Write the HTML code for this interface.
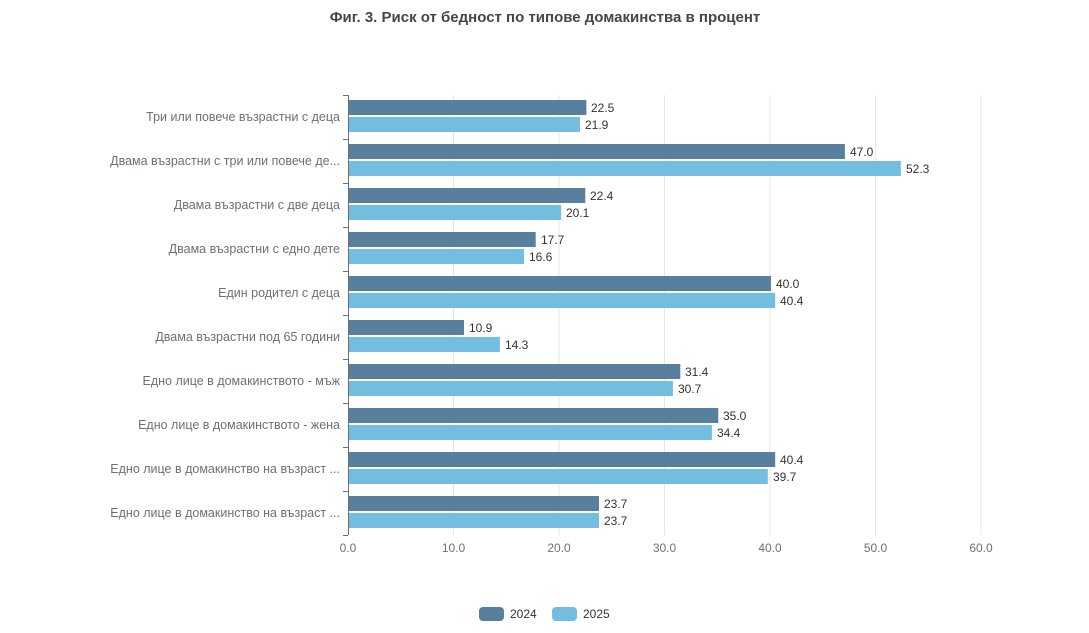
<!DOCTYPE html>
<html><head><meta charset="utf-8"><style>
body{margin:0;background:#fff;width:1089px;height:628px;overflow:hidden;font-family:"Liberation Sans","DejaVu Sans",sans-serif}
</style></head><body>
<svg width="1089" height="628" xmlns="http://www.w3.org/2000/svg" font-family="Liberation Sans, DejaVu Sans, sans-serif">
<text x="545" y="22" text-anchor="middle" font-size="15" font-weight="bold" fill="#464646">Фиг. 3. Риск от бедност по типове домакинства в процент</text>
<g stroke="#e6e6e6" stroke-width="1">
<line x1="453.5" y1="95" x2="453.5" y2="535"/><line x1="559" y1="95" x2="559" y2="535"/><line x1="664.5" y1="95" x2="664.5" y2="535"/><line x1="770" y1="95" x2="770" y2="535"/><line x1="875.5" y1="95" x2="875.5" y2="535"/><line x1="981" y1="95" x2="981" y2="535"/>
</g>
<g stroke="#6e7079" stroke-width="1">
<line x1="348.5" y1="95" x2="348.5" y2="535"/>
<line x1="343" y1="95.5" x2="348" y2="95.5"/><line x1="343" y1="139.5" x2="348" y2="139.5"/><line x1="343" y1="183.5" x2="348" y2="183.5"/><line x1="343" y1="227.5" x2="348" y2="227.5"/><line x1="343" y1="271.5" x2="348" y2="271.5"/><line x1="343" y1="315.5" x2="348" y2="315.5"/><line x1="343" y1="359.5" x2="348" y2="359.5"/><line x1="343" y1="403.5" x2="348" y2="403.5"/><line x1="343" y1="447.5" x2="348" y2="447.5"/><line x1="343" y1="491.5" x2="348" y2="491.5"/><line x1="343" y1="535.5" x2="348" y2="535.5"/>
</g>
<g font-size="12" fill="#6e7079" text-anchor="middle">
<text x="348" y="552">0.0</text><text x="453.5" y="552">10.0</text><text x="559" y="552">20.0</text><text x="664.5" y="552">30.0</text><text x="770" y="552">40.0</text><text x="875.5" y="552">50.0</text><text x="981" y="552">60.0</text>
</g>
<g font-size="12.5" fill="#6e7079" text-anchor="end">
<text x="340" y="121">Три или повече възрастни с деца</text>
<text x="340" y="165">Двама възрастни с три или повече де...</text>
<text x="340" y="209">Двама възрастни с две деца</text>
<text x="340" y="253">Двама възрастни с едно дете</text>
<text x="340" y="297">Един родител с деца</text>
<text x="340" y="341">Двама възрастни под 65 години</text>
<text x="340" y="385">Едно лице в домакинството - мъж</text>
<text x="340" y="429">Едно лице в домакинството - жена</text>
<text x="340" y="473">Едно лице в домакинство на възраст ...</text>
<text x="340" y="517">Едно лице в домакинство на възраст ...</text>
</g>
<g fill="#587f9d">
<rect x="349" y="100" width="237.4" height="15"/>
<rect x="349" y="144" width="495.9" height="15"/>
<rect x="349" y="188" width="236.3" height="15"/>
<rect x="349" y="232" width="186.7" height="15"/>
<rect x="349" y="276" width="422" height="15"/>
<rect x="349" y="320" width="115" height="15"/>
<rect x="349" y="364" width="331.3" height="15"/>
<rect x="349" y="408" width="369.3" height="15"/>
<rect x="349" y="452" width="426.2" height="15"/>
<rect x="349" y="496" width="250" height="15"/>
</g>
<g fill="#73bde0">
<rect x="349" y="117" width="231" height="15"/>
<rect x="349" y="161" width="551.8" height="15"/>
<rect x="349" y="205" width="212.1" height="15"/>
<rect x="349" y="249" width="175.1" height="15"/>
<rect x="349" y="293" width="426.2" height="15"/>
<rect x="349" y="337" width="150.9" height="15"/>
<rect x="349" y="381" width="323.9" height="15"/>
<rect x="349" y="425" width="362.9" height="15"/>
<rect x="349" y="469" width="418.8" height="15"/>
<rect x="349" y="513" width="250" height="15"/>
</g>
<g font-size="12" fill="#333">
<text x="591" y="112">22.5</text><text x="585" y="129">21.9</text>
<text x="850" y="156">47.0</text><text x="906" y="173">52.3</text>
<text x="590" y="200">22.4</text><text x="566" y="217">20.1</text>
<text x="541" y="244">17.7</text><text x="529" y="261">16.6</text>
<text x="776" y="288">40.0</text><text x="780" y="305">40.4</text>
<text x="469" y="332">10.9</text><text x="505" y="349">14.3</text>
<text x="685" y="376">31.4</text><text x="678" y="393">30.7</text>
<text x="723" y="420">35.0</text><text x="717" y="437">34.4</text>
<text x="780" y="464">40.4</text><text x="773" y="481">39.7</text>
<text x="604" y="508">23.7</text><text x="604" y="525">23.7</text>
</g>
<rect x="479" y="607" width="25" height="14" rx="4" fill="#587f9d"/>
<text x="510" y="618" font-size="12" fill="#333">2024</text>
<rect x="552" y="607" width="25" height="14" rx="4" fill="#73bde0"/>
<text x="583" y="618" font-size="12" fill="#333">2025</text>
</svg>
</body></html>
